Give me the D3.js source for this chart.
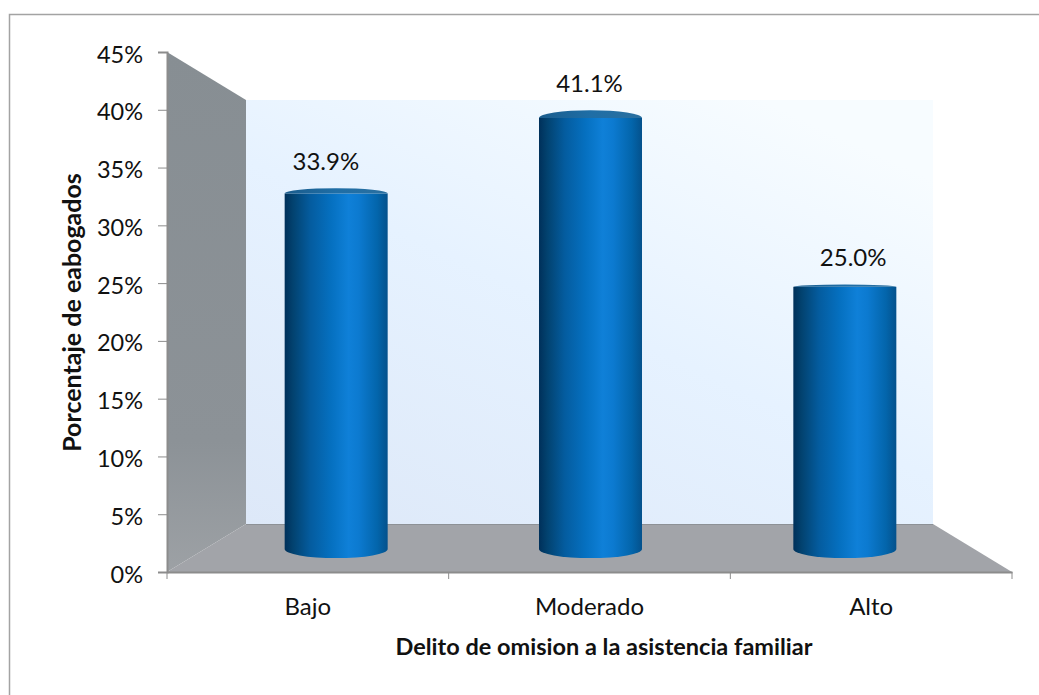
<!DOCTYPE html>
<html>
<head>
<meta charset="utf-8">
<script src="https://cdn.jsdelivr.net/npm/d3@7"></script>
<style>
  html, body { margin: 0; padding: 0; background: #fff; }
  svg { display: block; }
  text { font-family: Lato, "Open Sans", sans-serif; fill: #111; }
</style>
</head>
<body>
<div id="vis"></div>
<script>
const CATEGORIAS = ["Bajo", "Moderado", "Alto"];
const VALORES = [33.9, 41.1, 25.0];
const ETIQUETAS = ["33.9%", "41.1%", "25.0%"];
const TICKS_Y = [0, 5, 10, 15, 20, 25, 30, 35, 40, 45];

const WIDTH = 1039;
const HEIGHT = 695;
const FUENTE = 24;

const SVG = d3.select("#vis").append("svg").attr("width", WIDTH).attr("height", HEIGHT);
const defs = SVG.append("defs");

// marco de la imagen (solo arriba e izquierda)
SVG.append("path").attr("d", `M9.5,${HEIGHT} V14.5 H${WIDTH}`)
  .attr("fill", "none").attr("stroke", "#a3a3a3").attr("stroke-width", 1.5);

// plano frontal, plano de fondo y plano medio donde estan las barras
const yFront = d3.scaleLinear().domain([0, 45]).range([572, 52]);
const yBack = d3.scaleLinear().domain([0, 45]).range([524, 100]);
const yMid = d3.scaleLinear().domain([0, 45]).range([549, 77]);
const xFront = d3.scaleBand().domain(CATEGORIAS).range([167, 1012]);
const xMid = d3.scaleBand().domain(CATEGORIAS).range([209, 972]).paddingInner(0.595).paddingOuter(0.2975);
const xEtiqueta = d3.scaleBand().domain(CATEGORIAS).range([194, 985]);

const xL = xFront.range()[0], xR = xFront.range()[1];
const bL = 246, bR = 933;
const horizonte = 312;

// degradados
const wall = defs.append("linearGradient").attr("id", "fondo")
  .attr("x1", 0).attr("y1", 1).attr("x2", 0.75).attr("y2", 0);
wall.append("stop").attr("offset", "0%").attr("stop-color", "#dde8f8");
wall.append("stop").attr("offset", "55%").attr("stop-color", "#e6f2ff");
wall.append("stop").attr("offset", "100%").attr("stop-color", "#f7fcff");

const lado = defs.append("linearGradient").attr("id", "lado")
  .attr("x1", 0).attr("y1", 0).attr("x2", 0).attr("y2", 1);
lado.append("stop").attr("offset", "0%").attr("stop-color", "#878e93");
lado.append("stop").attr("offset", "75%").attr("stop-color", "#8c9297");
lado.append("stop").attr("offset", "100%").attr("stop-color", "#9da1a5");

const cil = defs.append("linearGradient").attr("id", "cilindro")
  .attr("x1", 0).attr("y1", 0).attr("x2", 1).attr("y2", 0);
[[0, "#00305a"], [0.08, "#02426f"], [0.25, "#045c9f"], [0.45, "#0570c0"], [0.62, "#0f80d8"], [0.72, "#0c7ad0"], [0.9, "#0365ab"], [1, "#04518c"]]
  .forEach(d => cil.append("stop").attr("offset", d[0]).attr("stop-color", d[1]));

const tapa = defs.append("linearGradient").attr("id", "tapa")
  .attr("x1", 0).attr("y1", 0).attr("x2", 1).attr("y2", 0);
[[0, "#1a5c8c"], [0.5, "#1f6ea6"], [1, "#2a6f9f"]]
  .forEach(d => tapa.append("stop").attr("offset", d[0]).attr("stop-color", d[1]));

// paredes y piso
SVG.append("rect").attr("x", bL).attr("y", yBack(45))
  .attr("width", bR - bL).attr("height", yBack(0) - yBack(45)).attr("fill", "url(#fondo)");
SVG.append("path").attr("fill", "url(#lado)")
  .attr("d", `M${xL},${yFront(45)} L${bL},${yBack(45)} V${yBack(0)} L${xL},${yFront(0)} Z`);
SVG.append("path").attr("fill", "#a2a4a9")
  .attr("d", `M${xL},${yFront(0)} L${bL},${yBack(0)} H${bR} L${xR},${yFront(0)} Z`);
SVG.append("path").attr("fill", "none").attr("stroke", "#8d9196").attr("stroke-width", 1)
  .attr("d", `M${bL},${yBack(0) + 0.5} H${bR}`);

// ejes
const ejeY = SVG.append("g").attr("transform", `translate(${xL},0)`)
  .call(d3.axisLeft(yFront).tickValues(TICKS_Y).tickSize(9).tickFormat(d => d + "%"));
ejeY.select(".domain").attr("stroke", "#8c8c8c").attr("stroke-width", 2);
ejeY.selectAll(".tick line").attr("stroke", "#8c8c8c");
ejeY.selectAll("text").attr("font-size", 23.5).attr("x", -24).attr("y", 2.5).attr("fill", "#111")
  .attr("font-family", "Lato, sans-serif");

const ejeX = SVG.append("g").attr("transform", `translate(0,${yFront(0)})`)
  .call(d3.axisBottom(xFront).tickSizeInner(0).tickSizeOuter(0));
ejeX.select(".domain").attr("stroke", "#8c8c8c").attr("stroke-width", 2);
ejeX.selectAll(".tick line").remove();
ejeX.selectAll("text").attr("font-size", FUENTE).attr("y", 26).attr("fill", "#111")
  .attr("font-family", "Lato, sans-serif");
ejeX.selectAll(".sep").data([xL, ...CATEGORIAS.map(c => xFront(c) + xFront.bandwidth())])
  .enter().append("line").attr("class", "sep")
  .attr("x1", d => d).attr("x2", d => d).attr("y1", 0).attr("y2", 7).attr("stroke", "#8c8c8c");

// cilindros: la elipse se aplana cerca del horizonte
const rx = xMid.bandwidth() / 2;
const radioY = y => 1.5 + 0.032 * Math.abs(y - horizonte);
const barras = SVG.selectAll(".barra").data(CATEGORIAS.map((c, i) => ({ c, v: VALORES[i], t: ETIQUETAS[i] })))
  .enter().append("g").attr("class", "barra");

barras.append("path").attr("fill", "url(#cilindro)").attr("d", d => {
  const x0 = xMid(d.c), x1 = x0 + xMid.bandwidth();
  const top = yMid(d.v), bot = yMid(0), ry = radioY(bot);
  return `M${x0},${top} V${bot} A${rx},${ry} 0 0 0 ${x1},${bot} V${top} Z`;
});
// solo se ve la mitad superior de la tapa
barras.append("path").attr("fill", "url(#tapa)").attr("d", d => {
  const x0 = xMid(d.c), x1 = x0 + xMid.bandwidth();
  const top = yMid(d.v), ry = radioY(top);
  return `M${x0},${top} A${rx},${ry} 0 0 1 ${x1},${top} Z`;
});

barras.append("text").attr("text-anchor", "middle").attr("font-size", FUENTE)
  .attr("x", d => xEtiqueta(d.c) + xEtiqueta.bandwidth() / 2)
  .attr("y", d => yMid(d.v) - radioY(yMid(d.v)) - 18)
  .text(d => d.t);

// titulos de ejes
SVG.append("text").attr("text-anchor", "middle").attr("font-size", 23.5).attr("font-weight", "bold")
  .attr("x", 604).attr("y", 655).text("Delito de omision a la asistencia familiar");
SVG.append("text").attr("text-anchor", "middle").attr("font-size", 25).attr("font-weight", "bold")
  .attr("transform", "translate(80.5,312.5) rotate(-90)").text("Porcentaje de eabogados");
</script>
</body>
</html>
